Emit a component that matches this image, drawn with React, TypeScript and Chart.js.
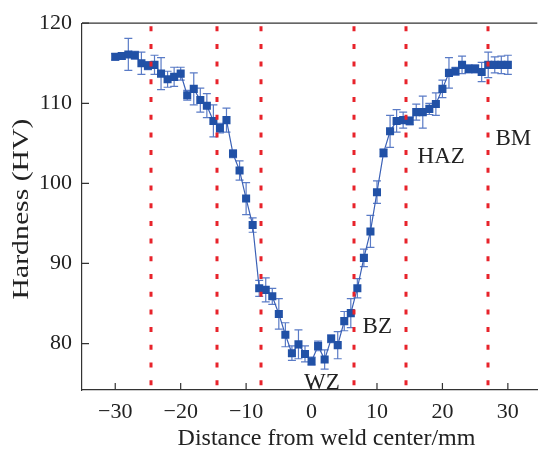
import React, { useEffect, useRef } from "react";
import { Chart, registerables } from "chart.js";

Chart.register(...registerables);

const distances = [
  -30, -29, -28, -27, -26, -25, -24, -23, -22, -21, -20, -19, -18, -17, -16, -15,
  -14, -13, -12, -11, -10, -9, -8, -7, -6, -5, -4, -3, -2, -1, 0, 1, 2, 3, 4, 5,
  6, 7, 8, 9, 10, 11, 12, 13, 14, 15, 16, 17, 18, 19, 20, 21, 22, 23, 24, 25, 26,
  27, 28, 29, 30,
];
const hardness = [
  115.8, 115.9, 116.1, 116.0, 115.0, 114.7, 114.8, 113.7, 113.0, 113.3, 113.7,
  111.0, 111.8, 110.4, 109.7, 107.8, 106.9, 107.9, 103.7, 101.6, 98.1, 94.8,
  86.9, 86.7, 85.9, 83.7, 81.1, 78.8, 79.9, 78.7, 77.8, 79.7, 78.0, 80.6, 79.8,
  82.8, 83.8, 86.9, 90.7, 94.0, 98.9, 103.8, 106.5, 107.8, 107.9, 107.8, 108.9,
  108.9, 109.3, 109.9, 111.8, 113.8, 114.0, 114.8, 114.3, 114.3, 113.9, 114.8,
  114.8, 114.8, 114.8,
];
const hardnessError = [
  0.4, 0.4, 2.0, 0.5, 1.4, 0.5, 1.2, 2.0, 1.0, 1.2, 0.8, 0.6, 2.0, 1.5, 1.5, 2.0,
  0.6, 1.5, 0.5, 1.2, 2.0, 0.9, 1.0, 1.5, 1.0, 1.9, 1.5, 0.9, 1.8, 1.0, 0.5, 0.6,
  1.2, 0.5, 1.7, 1.2, 1.8, 1.2, 1.1, 2.0, 1.4, 0.5, 2.0, 1.4, 1.0, 0.5, 1.0, 2.0,
  0.7, 1.4, 1.1, 1.9, 0.5, 1.1, 0.5, 0.5, 1.2, 1.6, 1.0, 1.1, 1.2,
];
const zoneBoundaries = [-24.5, -14.5, -7.8, 6.5, 14.4, 26.9];
const zoneLabels = ["WZ", "BZ", "HAZ", "BM"];
const zoneLabelX = [-1.15, 7.8, 16.2, 28.1];
const zoneLabelY = [74.3, 81.35, 102.6, 104.8];
const xTicks = [-30, -20, -10, 0, 10, 20, 30];
const yTicks = [80, 90, 100, 110, 120];
const xTitle = "Distance from weld center/mm";
const yTitle = "Hardness (HV)";

const SERIF = "'Liberation Serif', 'DejaVu Serif', serif";
const AXIS_COLOR = "#333333";
const TEXT_COLOR = "#222222";

const decorPlugin = {
  id: "decor",
  beforeDatasetsDraw(chart: any) {
    const { ctx } = chart;
    const xs = chart.scales.x;
    const ys = chart.scales.y;
    ctx.save();
    ctx.strokeStyle = "#5a7bc6";
    ctx.lineWidth = 1.2;
    for (let i = 0; i < distances.length; i++) {
      const px = xs.getPixelForValue(distances[i]);
      const top = ys.getPixelForValue(hardness[i] + hardnessError[i]);
      const bot = ys.getPixelForValue(hardness[i] - hardnessError[i]);
      ctx.beginPath();
      ctx.moveTo(px, top);
      ctx.lineTo(px, bot);
      ctx.moveTo(px - 4, top);
      ctx.lineTo(px + 4, top);
      ctx.moveTo(px - 4, bot);
      ctx.lineTo(px + 4, bot);
      ctx.stroke();
    }
    ctx.restore();
  },
  afterDatasetsDraw(chart: any) {
    const { ctx, chartArea } = chart;
    const xs = chart.scales.x;
    ctx.save();
    ctx.strokeStyle = "#e8232b";
    ctx.lineWidth = 3;
    ctx.setLineDash([5, 12.7]);
    for (const b of zoneBoundaries) {
      const px = Math.round(xs.getPixelForValue(b));
      ctx.beginPath();
      ctx.moveTo(px, chartArea.top + 3);
      ctx.lineTo(px, chartArea.bottom);
      ctx.stroke();
    }
    ctx.restore();
  },
  afterDraw(chart: any) {
    const { ctx, chartArea } = chart;
    const xs = chart.scales.x;
    const ys = chart.scales.y;
    ctx.save();
    // frame top
    ctx.strokeStyle = AXIS_COLOR;
    ctx.lineWidth = 1.2;
    ctx.beginPath();
    ctx.moveTo(chartArea.left, chartArea.top);
    ctx.lineTo(chartArea.right, chartArea.top);
    ctx.stroke();
    // inward ticks
    ctx.beginPath();
    for (const t of xTicks) {
      const px = xs.getPixelForValue(t);
      ctx.moveTo(px, chartArea.bottom);
      ctx.lineTo(px, chartArea.bottom - 7);
    }
    for (const t of yTicks) {
      const py = ys.getPixelForValue(t);
      ctx.moveTo(chartArea.left, py);
      ctx.lineTo(chartArea.left + 7, py);
    }
    ctx.stroke();
    // zone labels
    ctx.fillStyle = TEXT_COLOR;
    ctx.font = `23px ${SERIF}`;
    ctx.textAlign = "left";
    ctx.textBaseline = "alphabetic";
    for (let i = 0; i < zoneLabels.length; i++) {
      ctx.fillText(
        zoneLabels[i],
        xs.getPixelForValue(zoneLabelX[i]),
        ys.getPixelForValue(zoneLabelY[i])
      );
    }
    // axis titles
    ctx.font = `24px ${SERIF}`;
    ctx.textAlign = "center";
    ctx.textBaseline = "middle";
    ctx.fillText(xTitle, 326.5, 439);
    ctx.save();
    ctx.translate(22, 209);
    ctx.rotate(-Math.PI / 2);
    ctx.scale(1.24, 1);
    ctx.fillText(yTitle, 0, 0);
    ctx.restore();
    ctx.restore();
  },
};

export default function App() {
  const ref = useRef<HTMLCanvasElement | null>(null);
  useEffect(() => {
    if (!ref.current) return;
    const chart = new Chart(ref.current, {
      type: "line",
      data: {
        datasets: [
          {
            data: distances.map((d, i) => ({ x: d, y: hardness[i] })),
            borderColor: "#3b61b6",
            borderWidth: 1.2,
            backgroundColor: "#2151a6",
            pointBackgroundColor: "#2151a6",
            pointBorderColor: "#2151a6",
            pointBorderWidth: 0,
            pointStyle: "rect",
            pointRadius: 5.7,
            tension: 0,
            fill: false,
          },
        ],
      },
      options: {
        animation: false,
        responsive: false,
        devicePixelRatio: 1,
        layout: { padding: { top: 18, right: 0, left: 0, bottom: 0 } },
        plugins: {
          legend: { display: false },
          tooltip: { enabled: false },
          title: { display: false },
        },
        scales: {
          x: {
            type: "linear",
            min: -35.08,
            max: 34.5,
            grid: { display: false, drawTicks: false },
            border: { display: true, color: AXIS_COLOR, width: 1.2 },
            afterBuildTicks: (scale: any) => {
              scale.ticks = xTicks.map((v) => ({ value: v }));
            },
            afterFit: (scale: any) => {
              scale.height = 74;
            },
            ticks: {
              padding: 9,
              color: TEXT_COLOR,
              font: { family: SERIF, size: 22 },
              maxRotation: 0,
              autoSkip: false,
              callback: (v: any) =>
                Number(v) < 0 ? "\u2212" + Math.abs(Number(v)) : String(v),
            },
          },
          y: {
            type: "linear",
            min: 74.2,
            max: 120,
            grid: { display: false, drawTicks: false },
            border: { display: true, color: AXIS_COLOR, width: 1.2 },
            afterBuildTicks: (scale: any) => {
              scale.ticks = yTicks.map((v) => ({ value: v }));
            },
            afterFit: (scale: any) => {
              scale.width = 82;
            },
            ticks: {
              padding: 10,
              color: TEXT_COLOR,
              font: { family: SERIF, size: 22 },
              autoSkip: false,
              callback: (v: any) => String(v),
            },
          },
        },
      },
      plugins: [decorPlugin],
    });
    return () => chart.destroy();
  }, []);
  return (
    <div
      style={{
        position: "fixed",
        left: 0,
        top: 0,
        width: 543,
        height: 464,
        background: "#ffffff",
        overflow: "hidden",
      }}
    >
      <canvas ref={ref} width={543} height={464} />
    </div>
  );
}
